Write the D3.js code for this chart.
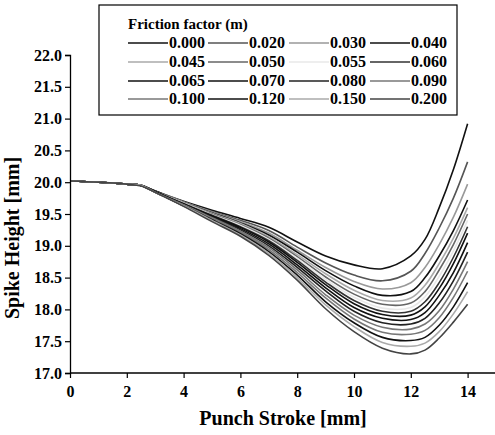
<!DOCTYPE html>
<html>
<head>
  <meta charset="utf-8">
  <script src="https://d3js.org/d3.v7.min.js"></script>
  <style>
  body { margin: 0; background: #fff; }
  text { font-family: "Liberation Serif", "Times New Roman", serif; font-weight: bold; fill: #000; }
  </style>
</head>
<body>
<script>
// punch stroke positions (mm) shared by every curve
var stroke = [0, 1, 2, 2.5, 3, 4, 5, 6, 7, 8, 9, 10, 11, 12, 12.5, 13, 13.5, 14];

var frictionLabels = ["0.000", "0.020", "0.030", "0.040", "0.045", "0.050", "0.055", "0.060",
                      "0.065", "0.070", "0.080", "0.090", "0.100", "0.120", "0.150", "0.200"];
var lineColors = ["#111", "#555", "#999", "#111", "#aaa", "#666", "#e8e8e8", "#333",
                  "#111", "#111", "#222", "#777", "#777", "#111", "#aaa", "#444"];

// spike height (mm) per friction factor, top curve first
var h000 = [20.02, 20.00, 19.97, 19.95, 19.86, 19.70, 19.56, 19.43, 19.29, 19.06, 18.84, 18.70, 18.64, 18.84, 19.10, 19.60, 20.20, 20.92];
var h020 = [20.02, 20.00, 19.97, 19.95, 19.86, 19.69, 19.54, 19.40, 19.24, 18.98, 18.73, 18.54, 18.45, 18.60, 18.88, 19.28, 19.75, 20.32];
var h030 = [20.02, 20.00, 19.97, 19.95, 19.86, 19.69, 19.53, 19.38, 19.20, 18.93, 18.66, 18.44, 18.32, 18.42, 18.66, 19.02, 19.45, 19.97];
var h040 = [20.02, 20.00, 19.97, 19.95, 19.86, 19.68, 19.52, 19.36, 19.17, 18.90, 18.61, 18.37, 18.22, 18.28, 18.50, 18.84, 19.24, 19.72];
var h045 = [20.02, 20.00, 19.97, 19.95, 19.85, 19.68, 19.51, 19.35, 19.14, 18.86, 18.56, 18.30, 18.14, 18.18, 18.38, 18.72, 19.12, 19.60];
var h050 = [20.02, 20.00, 19.97, 19.95, 19.85, 19.67, 19.50, 19.33, 19.12, 18.83, 18.51, 18.24, 18.08, 18.10, 18.28, 18.62, 19.02, 19.50];
var h055 = [20.02, 20.00, 19.97, 19.95, 19.85, 19.67, 19.49, 19.32, 19.10, 18.80, 18.47, 18.19, 18.02, 18.03, 18.20, 18.52, 18.92, 19.40];
var h060 = [20.02, 20.00, 19.97, 19.95, 19.85, 19.66, 19.48, 19.30, 19.08, 18.77, 18.43, 18.14, 17.97, 17.97, 18.12, 18.42, 18.82, 19.30];
var h065 = [20.02, 20.00, 19.97, 19.95, 19.85, 19.66, 19.47, 19.29, 19.06, 18.74, 18.39, 18.09, 17.92, 17.91, 18.04, 18.33, 18.72, 19.20];
var h070 = [20.02, 20.00, 19.97, 19.95, 19.85, 19.65, 19.46, 19.27, 19.03, 18.70, 18.34, 18.03, 17.86, 17.84, 17.95, 18.22, 18.58, 19.05];
var h080 = [20.02, 20.00, 19.97, 19.95, 19.85, 19.65, 19.45, 19.25, 19.00, 18.66, 18.29, 17.97, 17.79, 17.77, 17.86, 18.10, 18.45, 18.90];
var h090 = [20.02, 20.00, 19.97, 19.95, 19.84, 19.64, 19.44, 19.23, 18.97, 18.62, 18.23, 17.91, 17.72, 17.69, 17.77, 17.98, 18.32, 18.75];
var h100 = [20.02, 20.00, 19.97, 19.95, 19.84, 19.64, 19.43, 19.21, 18.94, 18.58, 18.18, 17.85, 17.64, 17.61, 17.67, 17.87, 18.19, 18.60];
var h120 = [20.02, 20.00, 19.97, 19.95, 19.84, 19.63, 19.41, 19.19, 18.91, 18.54, 18.12, 17.79, 17.56, 17.51, 17.56, 17.75, 18.04, 18.42];
var h150 = [20.02, 20.00, 19.97, 19.95, 19.84, 19.63, 19.40, 19.17, 18.88, 18.50, 18.07, 17.73, 17.48, 17.42, 17.47, 17.65, 17.93, 18.28];
var h200 = [20.02, 20.00, 19.97, 19.94, 19.84, 19.62, 19.38, 19.15, 18.85, 18.46, 18.01, 17.65, 17.39, 17.30, 17.36, 17.55, 17.80, 18.08];

var heights = [h000, h020, h030, h040, h045, h050, h055, h060,
               h065, h070, h080, h090, h100, h120, h150, h200];

var xMajor = [0, 2, 4, 6, 8, 10, 12, 14];
var yMajor = [17.0, 17.5, 18.0, 18.5, 19.0, 19.5, 20.0, 20.5, 21.0, 21.5, 22.0];

var W = 495, H = 435;
var svg = d3.select("body").append("svg").attr("width", W).attr("height", H);

var x = d3.scaleLinear().domain([0, 15]).range([70, 496]);
var y = d3.scaleLinear().domain([17, 22]).range([373, 55]);

var line = d3.line()
  .x(function (d) { return x(d[0]); })
  .y(function (d) { return y(d[1]); })
  .curve(d3.curveCatmullRom.alpha(0.5));

// curves
svg.append("g").selectAll("path")
  .data(heights)
  .enter().append("path")
    .attr("d", function (h) { return line(h.map(function (v, i) { return [stroke[i], v]; })); })
    .attr("fill", "none")
    .attr("stroke", function (h, i) { return lineColors[i]; })
    .attr("stroke-width", 1.6);

// x axis: minor ticks at odd values
var xAxis = svg.append("g").attr("transform", "translate(0,373)");
xAxis.call(d3.axisBottom(x).tickValues(d3.range(0, 16, 1)).tickSize(3).tickFormat(""));
xAxis.call(d3.axisBottom(x).tickValues(xMajor).tickSize(5).tickPadding(8).tickFormat(d3.format("d")));
xAxis.selectAll(".domain").attr("stroke", "#000").attr("stroke-width", 1.3).attr("d", "M70,0H496");
xAxis.selectAll("text").style("font-size", "16px");

var yAxis = svg.append("g").attr("transform", "translate(70,0)");
yAxis.call(d3.axisLeft(y).tickValues(d3.range(17, 22.01, 0.25)).tickSize(3).tickFormat(""));
yAxis.call(d3.axisLeft(y).tickValues(yMajor).tickSize(5).tickPadding(3).tickFormat(d3.format(".1f")));
yAxis.selectAll(".domain").attr("stroke", "#000").attr("stroke-width", 1.3);
yAxis.selectAll("text").style("font-size", "16px");
svg.selectAll(".tick line").attr("stroke", "#000").attr("stroke-width", 1.2);

// axis titles
svg.append("text")
  .attr("x", 283).attr("y", 425)
  .style("text-anchor", "middle").style("font-size", "20px")
  .text("Punch Stroke [mm]");
svg.append("text")
  .attr("transform", "translate(19,238) rotate(-90)")
  .style("text-anchor", "middle").style("font-size", "20px")
  .text("Spike Height [mm]");

// legend
var legend = svg.append("g");
legend.append("rect")
  .attr("x", 99).attr("y", 5).attr("width", 358).attr("height", 110)
  .attr("fill", "#fff").attr("stroke", "#000").attr("stroke-width", 1.2);
legend.append("text")
  .attr("x", 128).attr("y", 29).style("font-size", "15px")
  .text("Friction factor (m)");

var colX = [128, 208, 289, 370];
var rowY = [48, 67, 86, 104];
var items = legend.selectAll("g.item")
  .data(frictionLabels)
  .enter().append("g")
    .attr("class", "item")
    .attr("transform", function (d, i) {
      return "translate(" + colX[i % 4] + "," + rowY[Math.floor(i / 4)] + ")";
    });
items.append("line")
  .attr("x1", 0).attr("x2", 40).attr("y1", -5).attr("y2", -5)
  .attr("stroke", function (d, i) { return lineColors[i]; })
  .attr("stroke-width", 1.6);
items.append("text")
  .attr("x", 41).attr("y", 0).style("font-size", "16px")
  .text(function (d) { return d; });
</script>
</body>
</html>
